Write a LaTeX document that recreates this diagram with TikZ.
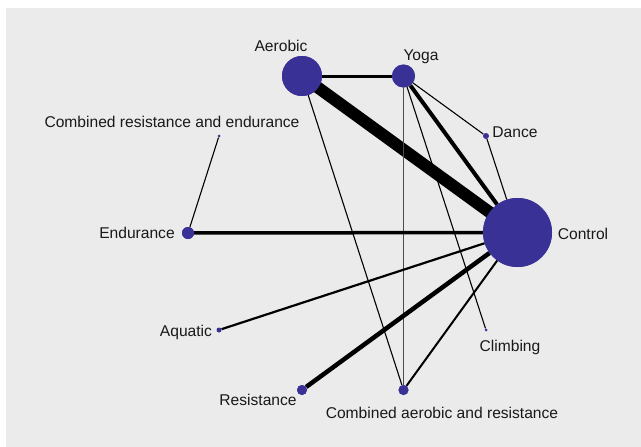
\documentclass[tikz,border=0pt]{standalone}
\usepackage{fontspec}
\setmainfont{Liberation Sans}
\definecolor{bgc}{RGB}{235,235,235}
\definecolor{nodec}{RGB}{58,49,150}
\begin{document}
\begin{tikzpicture}[x=1pt,y=-1pt,
  trt/.style={circle,fill=nodec,inner sep=0pt,minimum size=#1},
  lab/.style={font=\fontsize{15.6}{16}\selectfont,inner sep=0pt,text=black!90},
  edge/.style={line width=#1,draw=black}]
\useasboundingbox (0,0) rectangle (641,447);
\fill[bgc] (6,8) rectangle (641,447);
% nodes
\node[trt=40pt] (aer) at (302,76) {};
\node[trt=23pt] (yog) at (403.5,76) {};
\node[trt=6pt] (dan) at (486,136) {};
\node[trt=3pt] (cre) at (219,136) {};
\node[trt=12pt] (end) at (188,233) {};
\node[trt=69pt] (con) at (517.5,232.5) {};
\node[trt=5pt] (aqu) at (219,330) {};
\node[trt=3pt] (cli) at (486,330) {};
\node[trt=10pt] (res) at (302,390) {};
\node[trt=10pt] (car) at (403.5,390) {};
% edges
\draw[edge=12pt] (aer.center) -- (con.center);
\draw[edge=3pt] (aer) -- (yog);
\draw[edge=1.1pt] (aer) -- (car);
\draw[edge=1.1pt] (yog) -- (dan);
\draw[edge=4pt] (yog) -- (con);
\draw[edge=1.1pt] (yog) -- (cli);
\draw[edge=1.6pt,draw=black!70] (yog) -- (car);
\draw[edge=1.1pt] (dan) -- (con);
\draw[edge=1.1pt] (cre) -- (end);
\draw[edge=3.5pt] (end) -- (con);
\draw[edge=2.2pt] (aqu) -- (con);
\draw[edge=4.5pt] (res) -- (con);
\draw[edge=2pt] (car) -- (con);
% redraw node discs on top of the edges
\fill[nodec] (aer) circle (20pt);
\fill[nodec] (con) circle (34.5pt);
\fill[nodec] (yog) circle (11.5pt);
\fill[nodec] (end) circle (6pt);
\fill[nodec] (res) circle (5pt);
\fill[nodec] (car) circle (5pt);
% labels
\node[lab] (laer) at (281,46) {Aerobic};
\node[lab] (lyog) at (421,57) {Yoga};
\node[lab] (ldan) at (515,132) {Dance};
\node[lab] (lcre) at (172,122) {Combined resistance and endurance};
\node[lab] (lend) at (137,232.5) {Endurance};
\node[lab] (lcon) at (583,234) {Control};
\node[lab] (laqu) at (186,332) {Aquatic};
\node[lab] (lcli) at (510,347) {Climbing};
\node[lab] (lres) at (258,400) {Resistance};
\node[lab] (lcar) at (442,413) {Combined aerobic and resistance};
\end{tikzpicture}
\end{document}
